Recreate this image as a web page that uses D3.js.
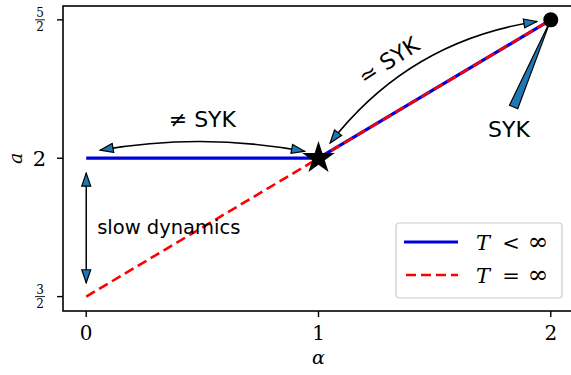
<!DOCTYPE html>
<html><head><meta charset="utf-8">
<script src="https://cdn.jsdelivr.net/npm/d3@7"></script>
<style>body{margin:0;background:#fff}svg{display:block}</style>
</head><body>
<svg id="c" width="571" height="375"></svg>
<script>
const alpha = [0, 1, 2];
const aFinite = [2, 2, 2.5];
const aInfinite = [1.5, 2, 2.5];
const xTicks = [0, 1, 2];
const yTicks = [1.5, 2, 2.5];
const yTickLabels = [["3","2"], "2", ["5","2"]];

const svg = d3.select("#c");
const L = 63, R = 574, T = 6, B = 311;
const x = d3.scaleLinear().domain([-0.1, 2.1]).range([L, R]);
const y = d3.scaleLinear().domain([1.448, 2.55]).range([B, T]);
const serif = "'DejaVu Serif', 'Liberation Serif', serif";
const sans = "'DejaVu Sans', sans-serif";

const defs = svg.append("defs");
const m = defs.append("marker").attr("id", "ah").attr("viewBox", "0 0 15 11")
  .attr("refX", 14).attr("refY", 5.5).attr("markerWidth", 15).attr("markerHeight", 11)
  .attr("markerUnits", "userSpaceOnUse").attr("orient", "auto-start-reverse");
m.append("path").attr("d", "M1,1 L14,5.5 L1,10 Z").attr("fill", "#1f77b4")
  .attr("stroke", "#000").attr("stroke-width", 1.2);

defs.append("clipPath").attr("id", "clip").append("rect")
  .attr("x", L).attr("y", T).attr("width", R - L).attr("height", B - T);

const g = svg.append("g").attr("clip-path", "url(#clip)");
const line = d3.line().x((d, i) => x(alpha[i])).y(d => y(d));

g.append("path").datum(aFinite).attr("d", line).attr("fill", "none")
  .attr("stroke", "#0000dd").attr("stroke-width", 3.2);
g.append("path").datum(aInfinite).attr("d", line).attr("fill", "none")
  .attr("stroke", "#ff0000").attr("stroke-width", 2.6).attr("stroke-dasharray", "10,5");

const star = d3.symbol().type(d3.symbolStar).size(330);
svg.append("path").attr("d", star()).attr("transform", `translate(${x(1)},${y(2)})`)
  .attr("fill", "#000");
svg.append("circle").attr("cx", x(2)).attr("cy", y(2.5)).attr("r", 7.5).attr("fill", "#000");

svg.append("rect").attr("x", L).attr("y", T).attr("width", R - L).attr("height", B - T)
  .attr("fill", "none").attr("stroke", "#000").attr("stroke-width", 1.6);

xTicks.forEach(t => {
  svg.append("line").attr("x1", x(t)).attr("x2", x(t)).attr("y1", B).attr("y2", B + 6)
    .attr("stroke", "#000").attr("stroke-width", 1.4);
  svg.append("text").attr("x", x(t)).attr("y", B + 29).attr("text-anchor", "middle")
    .attr("font-family", serif).attr("font-size", 20).text(t);
});
svg.append("text").attr("x", x(1)).attr("y", 364).attr("text-anchor", "middle")
  .attr("font-family", serif).attr("font-style", "italic").attr("font-size", 19).text("α");

yTicks.forEach((t, i) => {
  svg.append("line").attr("x1", L - 6).attr("x2", L).attr("y1", y(t)).attr("y2", y(t))
    .attr("stroke", "#000").attr("stroke-width", 1.4);
  const lab = yTickLabels[i];
  if (Array.isArray(lab)) {
    const cx = 40, cy = y(t);
    svg.append("text").attr("x", cx).attr("y", cy - 2.5).attr("text-anchor", "middle")
      .attr("font-family", serif).attr("font-size", 12).text(lab[0]);
    svg.append("line").attr("x1", cx - 5).attr("x2", cx + 5).attr("y1", cy).attr("y2", cy)
      .attr("stroke", "#000").attr("stroke-width", 0.9);
    svg.append("text").attr("x", cx).attr("y", cy + 11.5).attr("text-anchor", "middle")
      .attr("font-family", serif).attr("font-size", 12).text(lab[1]);
  } else {
    svg.append("text").attr("x", 46).attr("y", y(t) + 7.5).attr("text-anchor", "end")
      .attr("font-family", serif).attr("font-size", 21).text(lab);
  }
});
svg.append("text").attr("transform", `translate(22,${y(2)}) rotate(-90)`).attr("text-anchor", "middle")
  .attr("font-family", serif).attr("font-style", "italic").attr("font-size", 19).text("a");

function arc(x1, y1, x2, y2, rad) {
  const mx = (x1 + x2) / 2, my = (y1 + y2) / 2;
  const dx = x2 - x1, dy = y2 - y1;
  const cx = mx + rad * dy, cy = my - rad * dx;
  return `M${x1},${y1} Q${cx},${cy} ${x2},${y2}`;
}
function darrow(d) {
  svg.append("path").attr("d", d).attr("fill", "none").attr("stroke", "#000")
    .attr("stroke-width", 1.5).attr("marker-start", "url(#ah)").attr("marker-end", "url(#ah)");
}
darrow(arc(x(0.06), y(2.029), x(0.94), y(2.025), 0.09));
svg.append("text").attr("x", x(0.5)).attr("y", 127).attr("text-anchor", "middle")
  .attr("font-family", sans).attr("font-size", 22).text("≠ SYK");

darrow(arc(x(1.05), y(2.055), x(1.94), y(2.494), 0.2));
svg.append("text").attr("transform", `translate(${x(1.32)},${y(2.33)}) rotate(-33)`)
  .attr("text-anchor", "middle").attr("font-family", sans).attr("font-size", 22).text("≃ SYK");

{
  const tx = x(2), ty = y(2.5);
  const bx = x(1.84), by = y(2.185);
  const ang = Math.atan2(ty - by, tx - bx);
  const px = -Math.sin(ang) * 4.5, py = Math.cos(ang) * 4.5;
  svg.append("path").attr("d", `M${bx - px},${by - py} L${tx},${ty} L${bx + px},${by + py} Z`)
    .attr("fill", "#1f77b4").attr("stroke", "#000").attr("stroke-width", 1.2);
  svg.append("text").attr("x", x(1.82)).attr("y", 137).attr("text-anchor", "middle")
    .attr("font-family", sans).attr("font-size", 22).text("SYK");
}

svg.append("path").attr("d", `M${x(0)},${y(1.946)} L${x(0)},${y(1.55)}`)
  .attr("stroke", "#000").attr("stroke-width", 1.5)
  .attr("marker-start", "url(#ah)").attr("marker-end", "url(#ah)");
svg.append("text").attr("x", x(0.047)).attr("y", 234).attr("font-family", sans)
  .attr("font-size", 19.5).text("slow dynamics");

const lg = svg.append("g").attr("transform", "translate(396,223)");
lg.append("rect").attr("width", 166).attr("height", 75).attr("rx", 3)
  .attr("fill", "#fff").attr("fill-opacity", 0.8).attr("stroke", "#ccc").attr("stroke-width", 1.2);
lg.append("line").attr("x1", 8).attr("x2", 62).attr("y1", 19).attr("y2", 19)
  .attr("stroke", "#0000dd").attr("stroke-width", 3.2);
lg.append("line").attr("x1", 10).attr("x2", 62).attr("y1", 52).attr("y2", 52)
  .attr("stroke", "#ff0000").attr("stroke-width", 2.6).attr("stroke-dasharray", "10,5");
const lt = (yy, rel) => {
  lg.append("text").attr("x", 80).attr("y", yy).attr("font-family", serif)
    .attr("font-style", "italic").attr("font-size", 21).text("T");
  lg.append("text").attr("x", 115).attr("y", yy).attr("text-anchor", "middle").attr("font-family", serif)
    .attr("font-size", 21).text(rel);
  lg.append("text").attr("x", 142).attr("y", yy).attr("text-anchor", "middle").attr("font-family", serif)
    .attr("font-size", 25).text("∞");
};
lt(27, "<");
lt(60, "=");
</script>
</body></html>
